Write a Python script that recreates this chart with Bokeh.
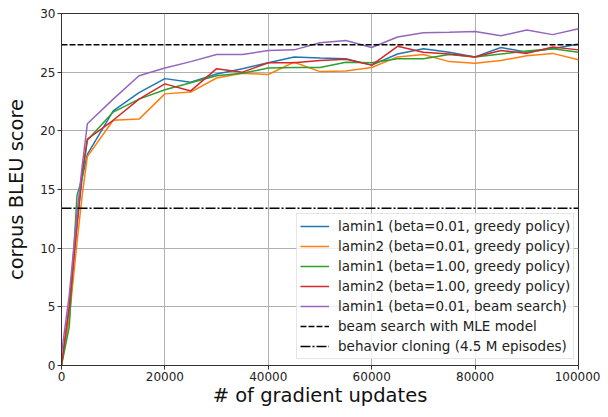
from bokeh.plotting import figure
from bokeh.models import Range1d, FixedTicker, Legend, LegendItem
from bokeh.embed import file_html
from bokeh.resources import INLINE

steps = [0, 1500, 3000, 4000, 5000, 10000, 15000, 20000, 25000, 30000, 35000, 40000,
         45000, 50000, 55000, 60000, 65000, 70000, 75000, 80000, 85000, 90000, 95000, 100000]

lamin1_b001_greedy = [0.0, 5.0, 12.0, 16.0, 18.0, 21.7, 23.25, 24.45, 24.15, 24.85, 25.3, 25.8,
                      26.3, 26.2, 26.15, 25.6, 26.55, 27.0, 26.7, 26.3, 27.1, 26.7, 27.0, 27.4]
lamin2_b001_greedy = [0.0, 4.0, 10.5, 14.5, 17.8, 20.9, 21.0, 23.15, 23.3, 24.5, 24.9, 24.8,
                      25.85, 25.05, 25.1, 25.4, 26.3, 26.5, 25.9, 25.75, 26.0, 26.4, 26.6, 26.05]
lamin1_b100_greedy = [0.0, 3.3, 14.5, 16.0, 19.2, 21.6, 22.7, 23.5, 24.1, 24.7, 24.9, 25.35,
                      25.4, 25.4, 25.85, 25.8, 26.15, 26.15, 26.5, 26.3, 26.55, 26.8, 27.0, 26.7]
lamin2_b100_greedy = [0.0, 5.0, 12.0, 16.5, 19.3, 20.9, 22.7, 24.0, 23.4, 25.3, 25.0, 25.8,
                      25.8, 26.0, 26.1, 25.6, 27.2, 26.7, 26.55, 26.3, 26.85, 26.6, 27.15, 26.9]
lamin1_b001_beam = [1.0, 6.0, 13.0, 17.0, 20.6, 22.7, 24.7, 25.35, 25.9, 26.5, 26.5, 26.85,
                    26.9, 27.5, 27.7, 27.1, 28.0, 28.35, 28.4, 28.47, 28.1, 28.6, 28.2, 28.7]

mle_beam_bleu = 27.34
behavior_cloning_bleu = 13.4

series_labels = ["lamin1 (beta=0.01, greedy policy)",
                 "lamin2 (beta=0.01, greedy policy)",
                 "lamin1 (beta=1.00, greedy policy)",
                 "lamin2 (beta=1.00, greedy policy)",
                 "lamin1 (beta=0.01, beam search)"]
baseline_labels = ["beam search with MLE model",
                   "behavior cloning (4.5 M episodes)"]

x_ticks = [0, 20000, 40000, 60000, 80000, 100000]
y_ticks = [0, 5, 10, 15, 20, 25, 30]

colors = ["#1f77b4", "#ff7f0e", "#2ca02c", "#d62728", "#9467bd"]

p = figure(width=600, height=409, output_backend="svg", toolbar_location=None,
           x_range=Range1d(0, 100000), y_range=Range1d(0, 30),
           min_border_left=61, min_border_right=22, min_border_top=13, min_border_bottom=44)

p.outline_line_color = "#333333"
p.outline_line_width = 1

font = "DejaVu Sans"
for ax in (p.xaxis[0], p.yaxis[0]):
    ax.major_label_text_font = font
    ax.major_label_text_font_size = "12px"
    ax.major_label_text_color = "#222222"
    ax.axis_label_text_font = font
    ax.axis_label_text_font_size = "19.5px"
    ax.axis_label_text_font_style = "normal"
    ax.axis_label_text_color = "#111111"
    ax.axis_line_color = "#333333"
    ax.major_tick_line_color = "#333333"
    ax.major_tick_out = 4
    ax.major_tick_in = 0
    ax.minor_tick_line_color = None
    ax.major_label_standoff = 2

p.xaxis.ticker = FixedTicker(ticks=x_ticks)
p.yaxis.ticker = FixedTicker(ticks=y_ticks)
p.xaxis.formatter.use_scientific = False
p.xaxis.axis_label = "# of gradient updates"
p.yaxis.axis_label = "corpus BLEU score"
p.xaxis.axis_label_standoff = 0
p.yaxis.axis_label_standoff = 9

p.xgrid.grid_line_color = "#b0b0b0"
p.ygrid.grid_line_color = "#b0b0b0"
p.xgrid.grid_line_width = 1
p.ygrid.grid_line_width = 1

data = [lamin1_b001_greedy, lamin2_b001_greedy, lamin1_b100_greedy,
        lamin2_b100_greedy, lamin1_b001_beam]
items = []
for ys, c, lab in zip(data, colors, series_labels):
    r = p.line(steps, ys, line_color=c, line_width=1.5)
    items.append(LegendItem(label=lab, renderers=[r]))

xs_span = [steps[0], steps[-1]]
r1 = p.line(xs_span, [mle_beam_bleu, mle_beam_bleu], line_color="black",
            line_width=1.5, line_dash="6 2")
r2 = p.line(xs_span, [behavior_cloning_bleu, behavior_cloning_bleu], line_color="black",
            line_width=1.5, line_dash="10 2 2 2")
items.append(LegendItem(label=baseline_labels[0], renderers=[r1]))
items.append(LegendItem(label=baseline_labels[1], renderers=[r2]))

legend = Legend(items=items, location=(235, 6))
legend.label_text_font = font
legend.label_text_font_size = "13.5px"
legend.label_text_color = "#222222"
legend.glyph_width = 29
legend.glyph_height = 18
legend.label_height = 18
legend.spacing = 2
legend.padding = 3
legend.margin = 0
legend.label_standoff = 9
legend.border_line_color = "#cccccc"
legend.border_line_width = 1
legend.background_fill_alpha = 0.8
p.add_layout(legend, "center")

open("out.html", "w").write(file_html(p, INLINE))
